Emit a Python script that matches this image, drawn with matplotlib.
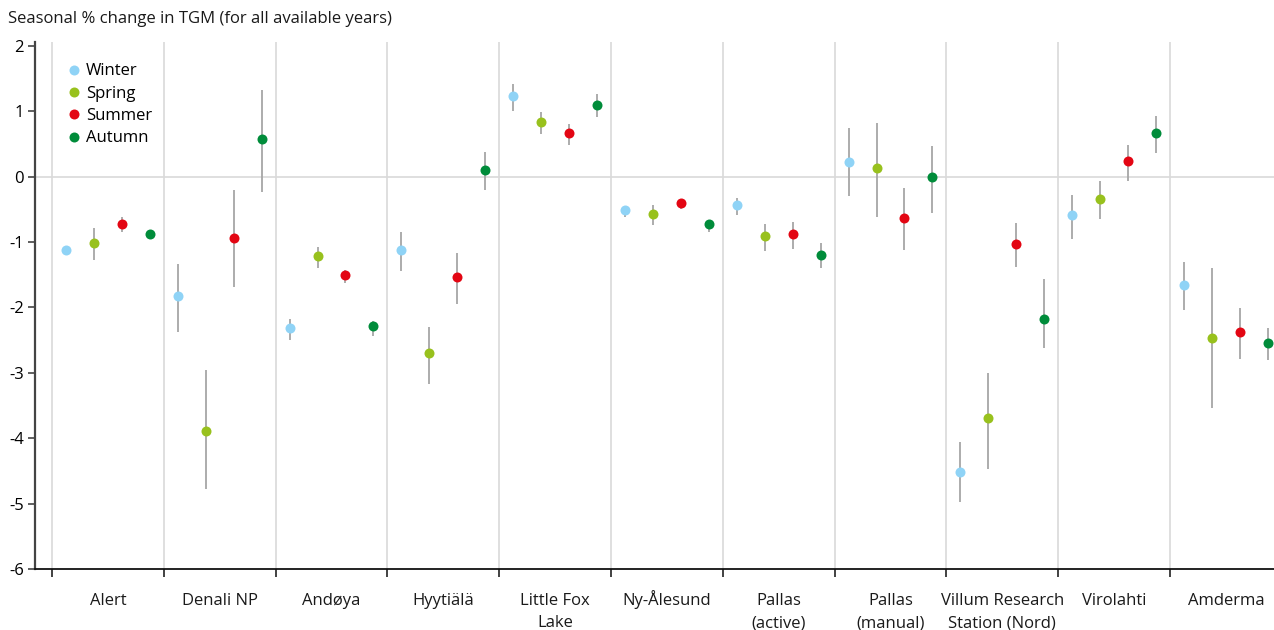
import matplotlib
matplotlib.use("Agg")
import matplotlib.pyplot as plt
from matplotlib.lines import Line2D
import numpy as np

plt.rcParams['font.family'] = ['Open Sans', 'DejaVu Sans']

stations = ["Alert", "Denali NP", "Andøya", "Hyytiälä", "Little Fox\nLake",
            "Ny-Ålesund", "Pallas\n(active)", "Pallas\n(manual)",
            "Villum Research\nStation (Nord)", "Virolahti", "Amderma"]
seasons = ["Winter", "Spring", "Summer", "Autumn"]
colors = ["#8fd3f6", "#98c11d", "#e30613", "#008c3a"]

# Seasonal % change (central estimate) and interval bounds, per station
winter = [-1.12, -1.82, -2.32, -1.12, 1.23, -0.51, -0.43, 0.23, -4.51, -0.59, -1.66]
winter_lo = [-1.15, -2.37, -2.50, -1.44, 1.01, -0.61, -0.58, -0.29, -4.97, -0.96, -2.04]
winter_hi = [-1.09, -1.33, -2.17, -0.84, 1.42, -0.45, -0.32, 0.75, -4.06, -0.28, -1.31]

spring = [-1.01, -3.89, -1.22, -2.70, 0.84, -0.57, -0.91, 0.13, -3.69, -0.34, -2.47]
spring_lo = [-1.28, -4.78, -1.40, -3.17, 0.66, -0.74, -1.14, -0.62, -4.47, -0.64, -3.53]
spring_hi = [-0.78, -2.95, -1.07, -2.30, 0.99, -0.43, -0.73, 0.82, -3.00, -0.07, -1.39]

summer = [-0.72, -0.94, -1.50, -1.53, 0.67, -0.40, -0.88, -0.63, -1.03, 0.24, -2.38]
summer_lo = [-0.84, -1.69, -1.63, -1.95, 0.48, -0.50, -1.10, -1.12, -1.38, -0.06, -2.79]
summer_hi = [-0.62, -0.21, -1.43, -1.16, 0.80, -0.34, -0.70, -0.18, -0.71, 0.49, -2.01]

autumn = [-0.88, 0.57, -2.29, 0.10, 1.10, -0.73, -1.19, 0.00, -2.17, 0.67, -2.54]
autumn_lo = [-0.91, -0.24, -2.43, -0.21, 0.91, -0.85, -1.40, -0.55, -2.62, 0.37, -2.80]
autumn_hi = [-0.85, 1.33, -2.21, 0.38, 1.26, -0.67, -1.01, 0.47, -1.57, 0.93, -2.32]

yticks = [2, 1, 0, -1, -2, -3, -4, -5, -6]
title = "Seasonal % change in TGM (for all available years)"

series = [
    (winter, winter_lo, winter_hi),
    (spring, spring_lo, spring_hi),
    (summer, summer_lo, summer_hi),
    (autumn, autumn_lo, autumn_hi),
]

W, H = 1274, 630
FS = 12
fig = plt.figure(figsize=(W / 100, H / 100), dpi=100)
ax = fig.add_axes([35 / W, 1 - 569 / H, 1 - 35 / W, (569 - 42) / H])

n = len(stations)
base = np.arange(n)
offsets = [0.125, 0.375, 0.625, 0.875]

for (vals, lo, hi), off, col, name in zip(series, offsets, colors, seasons):
    vals = np.array(vals)
    lo = np.array(lo)
    hi = np.array(hi)
    x = base + off
    ax.vlines(x, lo, hi, color="#a6a6a6", lw=1.3, zorder=2)
    ax.plot(x, vals, "o", color=col, ms=7.2, mec="none", zorder=3, label=name)

# grid: group separators and zero line
for b in range(n):
    ax.axvline(b, color="#d9d9d9", lw=1.2, zorder=1)
ax.axhline(0, color="#d9d9d9", lw=1.2, zorder=1)

ax.set_xlim(-0.152, 10.93)
ax.set_ylim(-6, 2.06)

ax.set_yticks(yticks)
ax.set_yticklabels([str(v) for v in yticks], fontsize=FS)
ax.set_xticks(base)
ax.set_xticklabels([])
ax.tick_params(axis="x", which="major", length=6, width=1.2, direction="out", color="#222222")
ax.tick_params(axis="y", length=5, width=1.2, direction="out", color="#444444", pad=3)

# station names, one line at a time on a common baseline
for i, name in enumerate(stations):
    for k, line in enumerate(name.split("\n")):
        ax.annotate(line, xy=(i + 0.5, 0), xycoords=ax.get_xaxis_transform(),
                    xytext=(0, -36 - 22 * k), textcoords="offset pixels",
                    ha="center", va="baseline", fontsize=FS, color="#1a1a1a",
                    annotation_clip=False)

for s in ["top", "right"]:
    ax.spines[s].set_visible(False)
ax.spines["left"].set_color("#444444")
ax.spines["left"].set_linewidth(1.6)
ax.spines["bottom"].set_color("#111111")
ax.spines["bottom"].set_linewidth(1.3)

fig.text(8 / W, 1 - 19 / H, title, fontsize=FS, ha="left", va="center", color="#1a1a1a")

handles = [Line2D([], [], marker="o", ls="none", color=c, mec="none", ms=7.2) for c in colors]
ax.legend(handles, seasons, loc="upper left", bbox_to_anchor=(56 / W, 1 - 55 / H),
          bbox_transform=fig.transFigure, frameon=False, fontsize=FS,
          handletextpad=0.1, labelspacing=0.38, handlelength=1.2, borderpad=0)

fig.savefig("out.png", dpi=100)
